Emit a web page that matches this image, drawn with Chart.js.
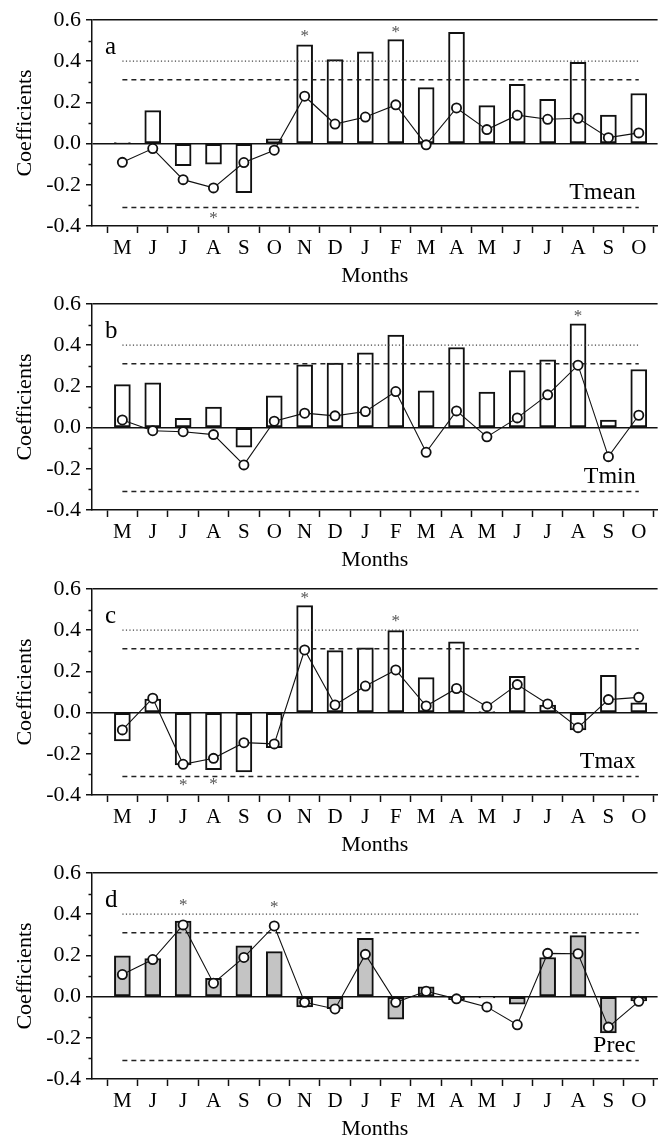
<!DOCTYPE html>
<html><head><meta charset="utf-8">
<script src="https://cdn.jsdelivr.net/npm/chart.js@4.4.1/dist/chart.umd.min.js"></script>
<style>
html,body{margin:0;padding:0;background:#fff;width:664px;height:1140px;overflow:hidden;}
.panel{position:absolute;left:0;width:664px;height:285px;}
</style></head><body>
<div class="panel" style="top:0px"><canvas id="c0" width="664" height="285"></canvas></div>
<div class="panel" style="top:284px"><canvas id="c1" width="664" height="285"></canvas></div>
<div class="panel" style="top:569px"><canvas id="c2" width="664" height="285"></canvas></div>
<div class="panel" style="top:853px"><canvas id="c3" width="664" height="285"></canvas></div>
<script>
// ---------- data ----------
const months = ['M','J','J','A','S','O','N','D','J','F','M','A','M','J','J','A','S','O'];
const panelLetters = ['a','b','c','d'];
const panelNames = ['Tmean','Tmin','Tmax','Prec'];
const xTitle = 'Months';
const yTitle = 'Coefficients';
const yMin = -0.4, yMax = 0.6;
const dashedLevels = [0.31, -0.31];
const dottedLevels = [0.4];

const tmeanBars = [0.005,0.16,-0.107,-0.10,-0.238,0.023,0.48,0.408,0.445,0.505,0.272,0.54,0.184,0.288,0.215,0.395,0.138,0.243];
const tmeanLine = [-0.091,-0.024,-0.175,-0.215,-0.092,-0.032,0.23,0.095,0.129,0.188,-0.006,0.173,0.068,0.138,0.118,0.123,0.029,0.052];
const tmeanStars = [null,null,null,-0.348,null,null,0.535,null,null,0.553,null,null,null,null,null,null,null,null];

const tminBars = [0.209,0.217,0.045,0.10,-0.095,0.154,0.305,0.313,0.363,0.449,0.178,0.389,0.173,0.277,0.329,0.504,0.036,0.282];
const tminLine = [0.037,-0.015,-0.02,-0.034,-0.181,0.031,0.07,0.057,0.078,0.175,-0.12,0.081,-0.045,0.047,0.159,0.303,-0.141,0.06];
const tminStars = [null,null,null,null,null,null,null,null,null,null,null,null,null,null,null,0.553,null,null];

const tmaxBars = [-0.138,0.066,-0.254,-0.277,-0.288,-0.17,0.519,0.301,0.314,0.398,0.17,0.343,0.005,0.176,0.036,-0.084,0.181,0.047];
const tmaxLine = [-0.084,0.07,-0.251,-0.222,-0.146,-0.152,0.304,0.037,0.129,0.207,0.032,0.117,0.029,0.136,0.042,-0.073,0.063,0.074];
const tmaxStars = [null,null,-0.341,-0.335,null,null,0.568,null,null,0.458,null,null,null,null,null,null,null,null];

const precBars = [0.198,0.184,0.366,0.089,0.246,0.218,-0.05,-0.059,0.283,-0.109,0.047,-0.015,-0.006,-0.037,0.19,0.296,-0.176,-0.021];
const precLine = [0.107,0.18,0.348,0.065,0.19,0.343,-0.028,-0.06,0.205,-0.028,0.026,-0.011,-0.05,-0.137,0.21,0.208,-0.148,-0.023];
const precStars = [null,null,0.457,null,null,0.446,null,null,null,null,null,null,null,null,null,null,null,null];

const allBars = [tmeanBars, tminBars, tmaxBars, precBars];
const allLines = [tmeanLine, tminLine, tmaxLine, precLine];
const allStars = [tmeanStars, tminStars, tmaxStars, precStars];
const barFills = ['#ffffff','#ffffff','#ffffff','#c4c4c4'];

// ---------- style ----------
const FONT = "'Liberation Serif','Times New Roman',serif";
const INK = '#111';

const decoPlugin = {
  id: 'deco',
  afterDraw(chart, args, opts) {
    const ctx = chart.ctx;
    const xs = chart.scales.x, ys = chart.scales.y;
    const ca = chart.chartArea;
    ctx.save();
    // minor y ticks
    ctx.strokeStyle = INK; ctx.lineWidth = 1.5;
    ys.ticks.forEach(t => {
      const k = Math.round(t.value * 10);
      if (k % 2 !== 0) {
        const py = Math.round(ys.getPixelForValue(t.value)) + 0.5;
        ctx.beginPath(); ctx.moveTo(ca.left - 3.5, py); ctx.lineTo(ca.left, py); ctx.stroke();
      }
    });
    // asterisks
    ctx.fillStyle = '#555';
    ctx.font = '17px ' + FONT;
    ctx.textAlign = 'center';
    ctx.textBaseline = 'alphabetic';
    const m = ctx.measureText('*');
    const asc = m.actualBoundingBoxAscent, desc = m.actualBoundingBoxDescent;
    opts.stars.forEach((v, i) => {
      if (v === null) return;
      const px = xs.getPixelForValue(i), py = ys.getPixelForValue(v);
      ctx.fillText('*', px, py + (asc - desc) / 2);
    });
    // panel letter
    ctx.fillStyle = '#000';
    ctx.textAlign = 'left';
    ctx.font = '25px ' + FONT;
    ctx.fillText(opts.letter, ca.left + 13, ca.top + 34);
    // variable name
    ctx.textAlign = 'right';
    ctx.font = '24px ' + FONT;
    ctx.fillText(opts.name, xs.getPixelForValue(months.length - 1) - 3, ca.top + 179);
    ctx.restore();
  }
};

function levelSet(level, dash, color, width) {
  return {
    type: 'line',
    data: [{x: 0, y: level}, {x: months.length - 1, y: level}],
    borderColor: color, borderWidth: width, borderDash: dash,
    pointRadius: 0, fill: false, order: 1
  };
}

function makeChart(idx) {
  const bars = allBars[idx], line = allLines[idx];
  const datasets = [
    {
      type: 'line',
      data: line.map((v, i) => ({x: i, y: v})),
      borderColor: INK, borderWidth: 1.1,
      pointRadius: 4.6, pointBorderWidth: 1.8,
      pointBackgroundColor: '#fff', pointBorderColor: INK,
      fill: false, order: 0
    },
    ...dashedLevels.map(l => levelSet(l, [5, 4], '#222', 1.5)),
    ...dottedLevels.map(l => levelSet(l, [1.2, 2.3], '#444', 1.2)),
    {
      type: 'bar',
      data: bars.map((v, i) => ({x: i, y: v})),
      backgroundColor: barFills[idx], borderColor: INK, borderWidth: 2,
      borderSkipped: false, barThickness: 16, order: 2
    }
  ];
  new Chart(document.getElementById('c' + idx), {
    type: 'bar',
    data: {datasets},
    options: {
      responsive: false, animation: false, events: [],
      layout: {padding: {top: 20, right: 0, bottom: 0, left: 0}},
      plugins: {legend: {display: false}, tooltip: {enabled: false},
        deco: {letter: panelLetters[idx], name: panelNames[idx], stars: allStars[idx]}},
      scales: {
        x: {
          type: 'linear', min: -1, max: 17.62, offset: false, bounds: 'data',
          afterBuildTicks: s => { s.ticks = [{value: -1}].concat(months.map((m, i) => ({value: i}))); },
          ticks: {autoSkip: false, maxRotation: 0,
            color: '#000', font: {family: FONT, size: 21}, padding: 3,
            callback: v => (months[v] !== undefined ? months[v] : '')},
          grid: {drawOnChartArea: false, drawTicks: true, tickLength: 7, tickColor: INK, tickWidth: 1.5},
          border: {display: true, color: INK, width: 1.5},
          title: {display: true, text: xTitle, color: '#000',
            font: {family: FONT, size: 22, lineHeight: 0.8}, padding: {top: 0, bottom: 0}},
          afterFit: s => { s.height = 59; s.paddingLeft = 0; s.paddingRight = 0; }
        },
        y: {
          type: 'linear', min: yMin, max: yMax,
          ticks: {stepSize: 0.1, autoSkip: false, color: '#000', font: {family: FONT, size: 22}, padding: 5,
            callback: v => { const k = Math.round(v * 10); return k % 2 === 0 ? (k / 10).toFixed(1) : ''; }},
          grid: {
            drawTicks: true, tickLength: 6,
            color: c => { const k = Math.round(c.tick.value * 10); return (k === 0 || k === 6) ? INK : 'rgba(0,0,0,0)'; },
            lineWidth: 1.5,
            tickColor: c => (Math.round(c.tick.value * 10) % 2 === 0 ? INK : 'rgba(0,0,0,0)'),
            tickWidth: 1.5
          },
          border: {display: true, color: INK, width: 1.5},
          title: {display: true, text: yTitle, color: '#000',
            font: {family: FONT, size: 22, lineHeight: 1.2}, padding: {top: 12, bottom: 0}},
          afterFit: s => { s.width = 92; }
        }
      }
    },
    plugins: [decoPlugin]
  });
}
[0, 1, 2, 3].forEach(makeChart);
</script>
</body></html>
